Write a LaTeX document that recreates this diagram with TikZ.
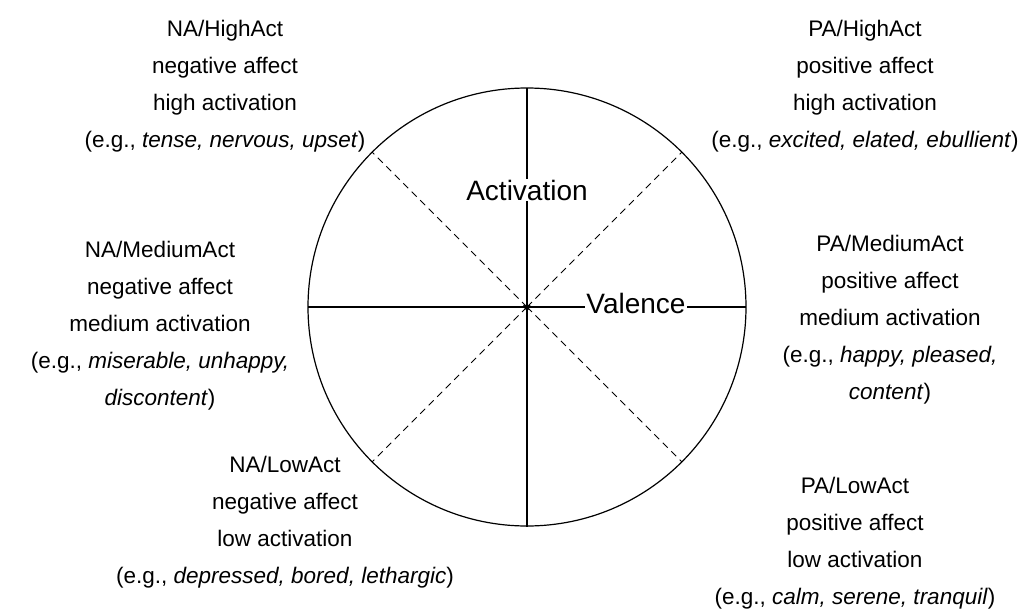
\documentclass[tikz,border=0pt]{standalone}
\usepackage{fontspec}
\setmainfont{Liberation Sans}
\begin{document}
\begin{tikzpicture}[x=1pt,y=1pt,yscale=-1,
  lbl/.style={align=center,font=\fontsize{22.5}{37}\selectfont},
  axlbl/.style={font=\fontsize{28}{30}\selectfont,fill=white,inner sep=1pt}]
\useasboundingbox (0,0) rectangle (1031,613);
\coordinate (c) at (527,307);
% circle and diagonals
\draw[line width=1.2pt] (c) circle (219);
\foreach \a in {45,135,225,315}
  \draw[dash pattern=on 7pt off 5pt,line width=0.9pt] (c) -- ++(\a:219);
\draw[line width=1.2pt] (527,88) -- (527,527);
\draw[line width=1.2pt] (308,307) -- (746,307);
\node[axlbl] (act) at (527,190) {Activation};
\node[axlbl] (val) at (636,303) {Valence};
\node[font=\huge] (ctr) at (527,310) {*};
% quadrant texts
\node[lbl] (nahigh) at (225,86) {NA/HighAct\\negative affect\\high activation\\(e.g., \textit{tense, nervous, upset})};
\node[lbl] (pahigh) at (865,86) {PA/HighAct\\positive affect\\high activation\\(e.g., \textit{excited, elated, ebullient})};
\node[lbl] (named) at (160,326) {NA/MediumAct\\negative affect\\medium activation\\(e.g., \textit{miserable, unhappy,}\\\textit{discontent})};
\node[lbl] (pamed) at (890,320) {PA/MediumAct\\positive affect\\medium activation\\(e.g., \textit{happy, pleased,}\\\textit{content})};
\node[lbl] (nalow) at (285,522) {NA/LowAct\\negative affect\\low activation\\(e.g., \textit{depressed, bored, lethargic})};
\node[lbl] (palow) at (855,543) {PA/LowAct\\positive affect\\low activation\\(e.g., \textit{calm, serene, tranquil})};
\end{tikzpicture}
\end{document}
